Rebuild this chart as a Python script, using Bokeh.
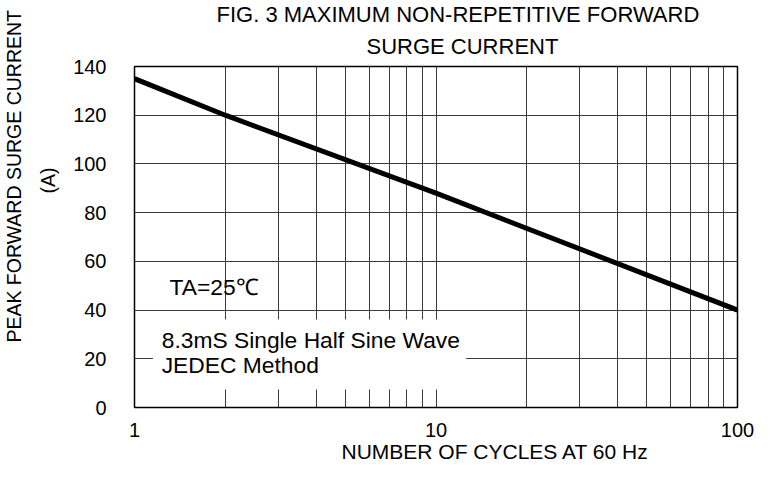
from bokeh.plotting import figure
from bokeh.models import Range1d, FixedTicker, Label, BoxAnnotation, NumeralTickFormatter, Title
from bokeh.embed import file_html
from bokeh.resources import INLINE

# ---- data ----
cycles = [1, 2, 10, 100]
surge_current = [135, 120, 88, 40]

x_ticks = [1, 10, 100]
x_tick_labels = ["1", "10", "100"]
x_minor_ticks = [2, 3, 4, 5, 6, 7, 8, 9, 20, 30, 40, 50, 60, 70, 80, 90]
y_ticks = [0, 20, 40, 60, 80, 100, 120, 140]

title_lines = ["FIG. 3 MAXIMUM NON-REPETITIVE FORWARD", "SURGE CURRENT"]
x_label = "NUMBER OF CYCLES AT 60 Hz"
y_label_lines = ["PEAK FORWARD SURGE CURRENT", "(A)"]
note_temp = "TA=25\u2103"
note_lines = ["8.3mS Single Half Sine Wave", "JEDEC Method"]

FONT = "Liberation Sans"

p = figure(x_axis_type="log", x_range=Range1d(1, 100), y_range=Range1d(0, 140),
           frame_width=603, frame_height=341,
           min_border_left=134, min_border_right=17,
           min_border_top=66, min_border_bottom=64,
           title_location=None,
           output_backend="svg", toolbar_location=None,
           background_fill_color="white", border_fill_color="white")

p.outline_line_color = "black"
p.outline_line_width = 1.5

xa = p.xaxis[0]
xa.ticker = FixedTicker(ticks=x_ticks, minor_ticks=x_minor_ticks)
xa.formatter = NumeralTickFormatter(format="0")
xa.major_label_overrides = {t: s for t, s in zip(x_ticks, x_tick_labels)}
ya = p.yaxis[0]
ya.ticker = FixedTicker(ticks=y_ticks)

for ax in (xa, ya):
    ax.axis_line_color = None
    ax.major_tick_line_color = None
    ax.minor_tick_line_color = None
    ax.major_tick_out = 0
    ax.major_tick_in = 0
    ax.minor_tick_out = 0
    ax.minor_tick_in = 0
    ax.major_label_text_font = FONT
    ax.major_label_text_font_size = "20px"
    ax.major_label_text_color = "black"
xa.major_label_standoff = 15
ya.major_label_standoff = 28

GRID = "#3a3a3a"
p.xgrid.grid_line_color = GRID
p.xgrid.minor_grid_line_color = GRID
p.xgrid.grid_line_width = 1
p.xgrid.minor_grid_line_width = 1
p.ygrid.grid_line_color = GRID
p.ygrid.grid_line_width = 1

p.line(cycles, surge_current, line_width=5, line_color="black")

# white box behind the method note
p.add_layout(BoxAnnotation(left=1.151, right=12.6, bottom=7.4, top=36.1,
                           fill_color="white", fill_alpha=1.0, line_color=None))

def lab(text, x, y, size):
    return Label(x=x, y=y, text=text, text_baseline="bottom",
                 text_font=FONT, text_font_size=size, text_color="black")

p.add_layout(lab(note_temp, 1.306, 44.0, "22.8px"))
p.add_layout(lab(note_lines[0], 1.231, 22.2, "22.8px"))
p.add_layout(lab(note_lines[1], 1.231, 12.0, "22.8px"))

def ttl(text, size, **kw):
    return Title(text=text, text_font=FONT, text_font_size=size,
                 text_font_style="normal", text_color="black", **kw)

# chart title: two lines above the frame (first added sits closest to the frame)
p.add_layout(ttl(title_lines[1], "22px", align="left", offset=232,
                 vertical_align="top", standoff=11), "above")
p.add_layout(ttl(title_lines[0], "22px", align="left", offset=82,
                 vertical_align="top", standoff=0), "above")

# x axis title below the tick labels
p.add_layout(ttl(x_label, "21px", align="left", offset=207,
                 vertical_align="top", standoff=0), "below")

# y axis title, two rotated lines left of the tick labels
p.add_layout(ttl(y_label_lines[1], "19.5px", align="right", offset=101,
                 vertical_align="top", standoff=20), "left")
p.add_layout(ttl(y_label_lines[0], "19.5px", align="right", offset=-56.5,
                 vertical_align="top", standoff=0), "left")

open("out.html", "w").write(file_html(p, INLINE))
